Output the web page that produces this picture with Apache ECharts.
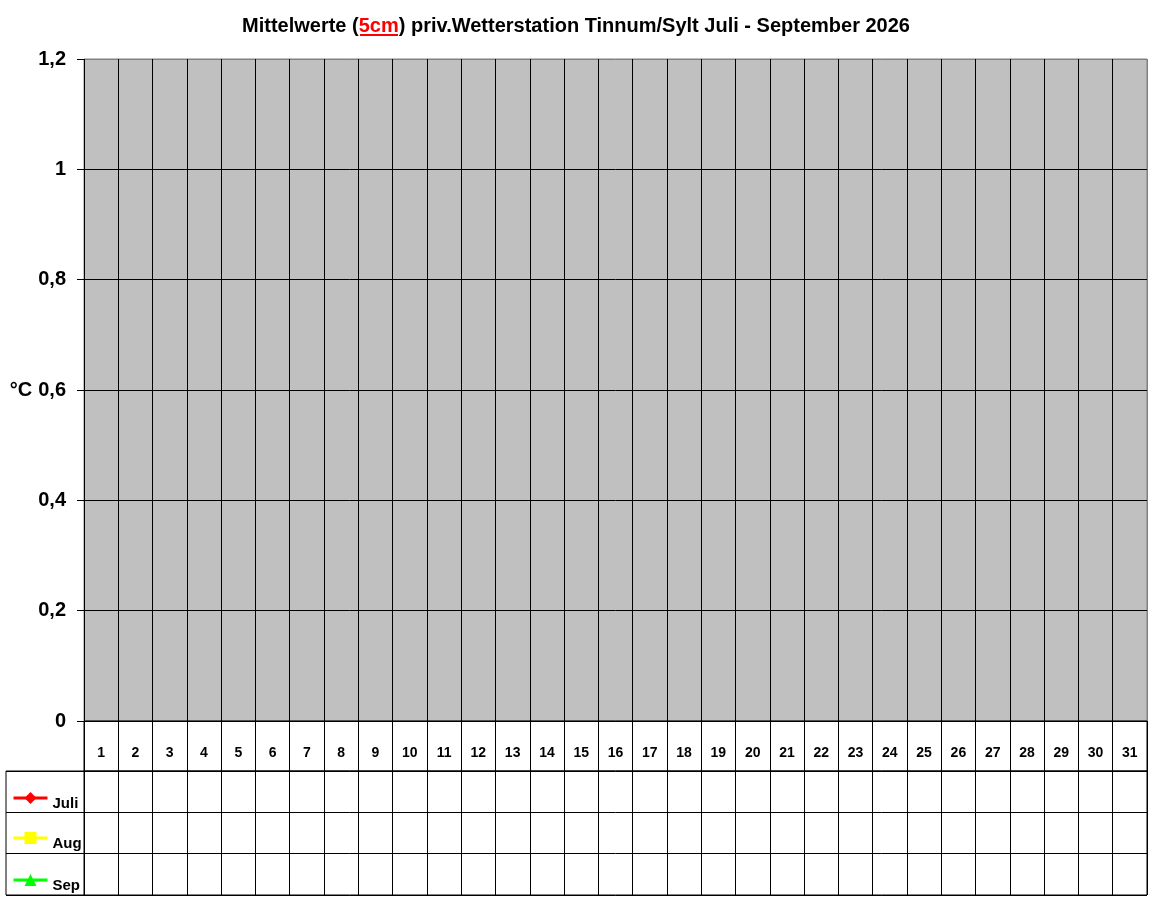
<!DOCTYPE html>
<html>
<head>
<meta charset="utf-8">
<script src="https://cdn.jsdelivr.net/npm/echarts@6/dist/echarts.min.js"></script>
<style>
html,body{margin:0;padding:0;background:#fff;}
#c{width:1152px;height:900px;}
</style>
</head>
<body>
<div id="c"></div>
<script>
// ---- data ----
const days = ['1','2','3','4','5','6','7','8','9','10','11','12','13','14','15','16','17','18','19','20','21','22','23','24','25','26','27','28','29','30','31'];
const rows = ['Juli','Aug','Sep'];
const juli = [];   // no values recorded yet
const aug = [];
const sep = [];
const yMin = 0, yMax = 1.2, yStep = 0.2;

const FONT = 'Liberation Sans, Arial, sans-serif';
const chart = echarts.init(document.getElementById('c'), null, {renderer:'canvas'});

// plot frame: outer right/top edges grey, inner lines black
const xSplitColors = days.map(() => '#000').concat(['#808080']);
const ySplitColors = ['#000','#000','#000','#000','#000','#000','#808080'];

const catAxisLines = (gi) => ({
  type:'category', data:days, gridIndex:gi, boundaryGap:true,
  axisLine:{show:false}, axisTick:{show:false},
  axisLabel:{show:false},
  splitLine:{show:true, interval:0, lineStyle:{color:'#000', width:1}}
});

const legendText = (name) => ({
  data:[name], left:12, orient:'vertical', padding:0, itemWidth:34, itemHeight:15, itemGap:0,
  selectedMode:false,
  lineStyle:{width:3},
  formatter:'{t|{name}}',
  textStyle:{rich:{t:{fontFamily:FONT, fontWeight:'bold', fontSize:15, color:'#000', padding:[12,0,0,0]}}}
});

chart.setOption({
  animation:false,
  title:{
    left:'center', top:11,
    text:'{a|Mittelwerte (}{r|5cm}{a|) priv.Wetterstation Tinnum/Sylt Juli - September 2026}',
    textStyle:{
      rich:{
        a:{fontFamily:FONT, fontWeight:'bold', fontSize:20, color:'#000'},
        r:{fontFamily:FONT, fontWeight:'bold', fontSize:20, color:'#ff0000'}
      }
    }
  },
  grid:[
    {left:84, top:59, width:1063, height:662, show:true, backgroundColor:'#c0c0c0', borderColor:'#808080', borderWidth:1},
    {left:84, top:721, width:1063, height:50, show:true, backgroundColor:'#fff', borderColor:'#000', borderWidth:1},
    {left:84, top:771, width:1063, height:124, show:true, backgroundColor:'#fff', borderColor:'#000', borderWidth:1},
    {left:6, top:771, width:78, height:124, show:true, backgroundColor:'#fff', borderColor:'#000', borderWidth:1}
  ],
  xAxis:[
    {type:'category', data:days, gridIndex:0, boundaryGap:true,
     axisLine:{show:true, lineStyle:{color:'#000'}}, axisTick:{show:false},
     axisLabel:{show:true, margin:25, fontFamily:FONT, fontWeight:'bold', fontSize:14, color:'#000', interval:0},
     splitLine:{show:true, interval:0, lineStyle:{color:xSplitColors, width:1}}},
    catAxisLines(1),
    catAxisLines(2),
    {type:'value', gridIndex:3, show:false, splitLine:{show:false}}
  ],
  yAxis:[
    {type:'value', gridIndex:0, min:yMin, max:yMax, interval:yStep,
     name:'°C', nameLocation:'middle', nameRotate:0, nameGap:51,
     nameTextStyle:{fontFamily:FONT, fontWeight:'bold', fontSize:20, color:'#000'},
     axisLine:{show:false},
     axisTick:{show:true, length:7, lineStyle:{color:'#000'}},
     axisLabel:{margin:18, fontFamily:FONT, fontWeight:'bold', fontSize:20, color:'#000',
       formatter:v=>String(Math.round(v*10)/10).replace('.',',')},
     splitLine:{show:true, lineStyle:{color:ySplitColors, width:1}}
    },
    {type:'value', gridIndex:1, show:false, splitLine:{show:false}},
    {type:'category', gridIndex:2, data:rows, inverse:true, boundaryGap:true,
     axisLine:{show:false}, axisTick:{show:false}, axisLabel:{show:false},
     splitLine:{show:true, interval:0, lineStyle:{color:'#000'}}},
    {type:'category', gridIndex:3, data:rows, inverse:true, boundaryGap:true,
     axisLine:{show:false}, axisTick:{show:false}, axisLabel:{show:false},
     splitLine:{show:true, interval:0, lineStyle:{color:'#000'}}}
  ],
  legend:[
    Object.assign(legendText('Juli'), {top:792}),
    Object.assign(legendText('Aug'), {top:832}),
    Object.assign(legendText('Sep'), {top:874})
  ],
  series:[
    {name:'Juli', type:'line', xAxisIndex:0, yAxisIndex:0, data:juli, symbol:'diamond', symbolSize:12,
     itemStyle:{color:'#ff0000'}, lineStyle:{color:'#ff0000', width:3}},
    {name:'Aug', type:'line', xAxisIndex:0, yAxisIndex:0, data:aug, symbol:'rect', symbolSize:10,
     itemStyle:{color:'#ffff00'}, lineStyle:{color:'#ffff00', width:3}},
    {name:'Sep', type:'line', xAxisIndex:0, yAxisIndex:0, data:sep, symbol:'triangle', symbolSize:12,
     itemStyle:{color:'#00ff00'}, lineStyle:{color:'#00ff00', width:3}}
  ],
  graphic:[
    {type:'rect', shape:{x:360, y:34, width:38, height:2}, style:{fill:'#ff0000'}, silent:true}
  ]
});
</script>
</body>
</html>
